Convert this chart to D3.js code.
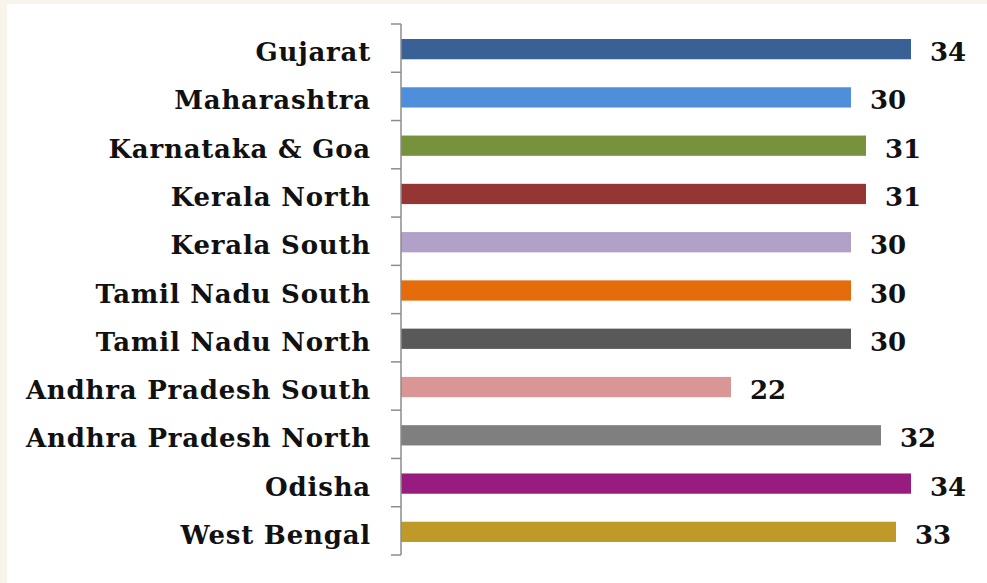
<!DOCTYPE html>
<html>
<head>
<meta charset="utf-8">
<script src="https://cdn.jsdelivr.net/npm/d3@7"></script>
<style>
    body { margin: 0; background: #f8f4ec; }
    svg { display: block; }
    .label { font-family: "DejaVu Serif", serif; font-weight: bold; fill: #111; }
</style>
</head>
<body>
<script>
let regions = ["Gujarat", "Maharashtra", "Karnataka & Goa", "Kerala North", "Kerala South",
    "Tamil Nadu South", "Tamil Nadu North", "Andhra Pradesh South", "Andhra Pradesh North",
    "Odisha", "West Bengal"];
let values = [34, 30, 31, 31, 30, 30, 30, 22, 32, 34, 33];
let barColors = ["#3a6195", "#4f8edb", "#76923c", "#963634", "#b1a0c7", "#e46c0a",
    "#595959", "#da9694", "#7f7f7f", "#981c80", "#bf9a28"];

let svgWidth = 987,
    svgHeight = 583,
    axisX = 401,
    plotTop = 24,
    plotBottom = 555;

let svg = d3.select("body").append("svg")
    .attr("width", svgWidth)
    .attr("height", svgHeight);

// white panel with beige edge on left/top
svg.append("rect")
    .attr("x", 7).attr("y", 4)
    .attr("width", svgWidth - 7).attr("height", svgHeight - 4)
    .attr("fill", "#ffffff");

let xScale = d3.scaleLinear().domain([0, 40]).range([axisX, axisX + 600]);
let yScale = d3.scaleBand().domain(regions).range([plotTop, plotBottom]).paddingInner(0.58).paddingOuter(0.29);

// bars
svg.selectAll(".bar")
    .data(values)
    .enter().append("rect")
    .attr("class", "bar")
    .attr("x", xScale(0))
    .attr("y", (d, i) => yScale(regions[i]) + 1)
    .attr("width", d => xScale(d) - xScale(0))
    .attr("height", yScale.bandwidth())
    .attr("fill", (d, i) => barColors[i]);

// y axis line and ticks
let tickScale = d3.scaleLinear().domain([0, regions.length]).range([plotTop, plotBottom]);
svg.append("line")
    .attr("x1", axisX).attr("x2", axisX)
    .attr("y1", plotTop).attr("y2", plotBottom)
    .attr("stroke", "#8c8c8c").attr("stroke-width", 1.5);
svg.selectAll(".tick")
    .data(d3.range(regions.length + 1))
    .enter().append("line")
    .attr("x1", axisX - 10).attr("x2", axisX)
    .attr("y1", d => tickScale(d)).attr("y2", d => tickScale(d))
    .attr("stroke", "#8c8c8c").attr("stroke-width", 1.5);

// category labels
svg.selectAll(".cat")
    .data(regions)
    .enter().append("text")
    .attr("class", "label")
    .attr("x", 371)
    .attr("y", d => yScale(d) + yScale.bandwidth() / 2 + 13)
    .attr("text-anchor", "end")
    .style("font-size", "26px")
    .style("letter-spacing", "0.8px")
    .text(d => d);

// value labels
svg.selectAll(".val")
    .data(values)
    .enter().append("text")
    .attr("class", "label")
    .attr("x", d => xScale(d) + 19)
    .attr("y", (d, i) => yScale(regions[i]) + yScale.bandwidth() / 2 + 13)
    .style("font-size", "26px")
    .text(d => d);
</script>
</body>
</html>
